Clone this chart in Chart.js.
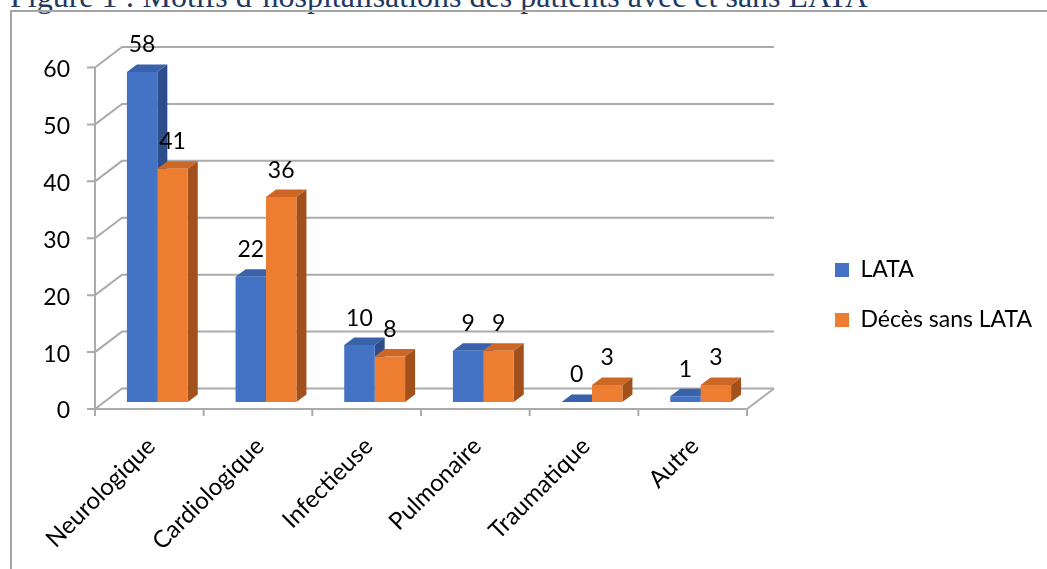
<!DOCTYPE html>
<html lang="fr">
<head>
  <meta charset="UTF-8">
  <title>Motifs d'hospitalisations des patients avec et sans LATA</title>
  <style>
    body { margin: 0; background: #fff; width: 1047px; height: 569px; overflow: hidden; position: relative; }
    .caption {
      position: absolute; left: 10px; top: -20px;
      font-family: "Liberation Serif", "Times New Roman", serif;
      font-size: 32px; line-height: 32px; color: #1F3864; white-space: nowrap;
    }
    .frame { position: absolute; left: 10px; top: 10px; width: 1100px; height: 600px; border-left: 2px solid #a6a6a6; border-top: 2px solid #a6a6a6; }
    #chart { position: absolute; left: 0; top: 0; }
  </style>
</head>
<body>
  <div class="caption">Figure 1 : Motifs d’hospitalisations des patients avec et sans LATA</div>
  <div class="frame"></div>
  <canvas id="chart" width="1047" height="569"></canvas>

  <script src="https://cdn.jsdelivr.net/npm/chart.js@4.4.1/dist/chart.umd.min.js"></script>
  <script>
    const categories = ['Neurologique', 'Cardiologique', 'Infectieuse', 'Pulmonaire', 'Traumatique', 'Autre'];
    const seriesNames = ['LATA', 'Décès sans LATA'];
    const lataValues = [58, 22, 10, 9, 0, 1];
    const sansLataValues = [41, 36, 8, 9, 3, 3];
    const yTicks = [0, 10, 20, 30, 40, 50, 60];

    // couleurs des faces (avant / dessus / côté)
    const faces = [
      { front: '#4472C4', top: '#3A62AB', side: '#2C4D8A' },
      { front: '#ED7D31', top: '#CC6726', side: '#A2511C' }
    ];
    const fontFamily = 'Lato, "Noto Sans", sans-serif';
    const font = { family: fontFamily, size: 23 };
    const catFont = { family: fontFamily, size: 24 };

    // décalages pour l'effet 3D
    const DEPTH = { dx: 10, dy: -7.5 };
    const FRONT = { dx: -8, dy: 7 };
    const BACK = { dx: 19, dy: -13.5 };

    // largeur de la légende -> marge droite pour que la légende commence à x=808
    const legendPad = 27, boxW = 14;
    const mctx = document.createElement('canvas').getContext('2d');
    mctx.font = `${font.size}px ${fontFamily}`;
    const textW = Math.max(...seriesNames.map(s => mctx.measureText(s).width));
    const legendW = legendPad + boxW + font.size / 2 + textW + 10;
    const padRight = Math.max(0, 1047 - 808 - legendW);

    function poly(ctx, pts, color) {
      ctx.fillStyle = color;
      ctx.beginPath();
      ctx.moveTo(pts[0][0], pts[0][1]);
      pts.slice(1).forEach(p => ctx.lineTo(p[0], p[1]));
      ctx.closePath();
      ctx.fill();
    }

    const wallPlugin = {
      id: 'wall3d',
      beforeDatasetsDraw(chart) {
        const { ctx, chartArea: a, scales: { x, y } } = chart;
        const p0 = y.getPixelForValue(0);
        const pTop = y.getPixelForValue(yTicks[yTicks.length - 1]);
        ctx.save();
        ctx.strokeStyle = '#ababab';
        ctx.lineWidth = 2;

        // paroi du fond + côté gauche
        yTicks.forEach(v => {
          const py = y.getPixelForValue(v);
          ctx.beginPath();
          ctx.moveTo(a.left + FRONT.dx, py + FRONT.dy);
          ctx.lineTo(a.left + BACK.dx, py + BACK.dy);
          ctx.lineTo(a.right + BACK.dx, py + BACK.dy);
          ctx.stroke();
        });
        // sol, bord droit
        ctx.beginPath();
        ctx.moveTo(a.right + FRONT.dx, p0 + FRONT.dy);
        ctx.lineTo(a.right + BACK.dx, p0 + BACK.dy);
        ctx.stroke();
        // axes avant
        ctx.beginPath();
        ctx.moveTo(a.left + FRONT.dx, pTop + FRONT.dy);
        ctx.lineTo(a.left + FRONT.dx, p0 + FRONT.dy);
        ctx.lineTo(a.right + FRONT.dx, p0 + FRONT.dy);
        ctx.stroke();
        // graduations
        ctx.beginPath();
        yTicks.forEach(v => {
          const py = y.getPixelForValue(v) + FRONT.dy;
          ctx.moveTo(a.left + FRONT.dx - 8, py);
          ctx.lineTo(a.left + FRONT.dx, py);
        });
        for (let i = 0; i <= categories.length; i++) {
          const px = x.getPixelForValue(i - 0.5) + FRONT.dx;
          ctx.moveTo(px, p0 + FRONT.dy);
          ctx.lineTo(px, p0 + FRONT.dy + 7);
        }
        ctx.stroke();

        // dessus et côté des barres
        chart.data.datasets.forEach((ds, di) => {
          chart.getDatasetMeta(di).data.forEach(bar => {
            const l = bar.x - bar.width / 2, r = bar.x + bar.width / 2;
            poly(ctx, [[l, bar.y], [l + DEPTH.dx, bar.y + DEPTH.dy], [r + DEPTH.dx, bar.y + DEPTH.dy], [r, bar.y]], faces[di].top);
            poly(ctx, [[r, bar.y], [r + DEPTH.dx, bar.y + DEPTH.dy], [r + DEPTH.dx, bar.base + DEPTH.dy], [r, bar.base]], faces[di].side);
          });
        });
        ctx.restore();
      }
    };

    const labelPlugin = {
      id: 'valueLabels',
      afterDatasetsDraw(chart) {
        const { ctx } = chart;
        ctx.save();
        ctx.font = `${font.size}px ${fontFamily}`;
        ctx.fillStyle = '#000';
        ctx.textAlign = 'center';
        ctx.textBaseline = 'middle';
        chart.data.datasets.forEach((ds, di) => {
          chart.getDatasetMeta(di).data.forEach((bar, i) => {
            ctx.fillText(String(ds.data[i]), bar.x, bar.y - 27);
          });
        });
        ctx.restore();
      }
    };

    new Chart(document.getElementById('chart'), {
      type: 'bar',
      data: {
        labels: categories,
        datasets: [
          { label: seriesNames[0], data: lataValues, backgroundColor: faces[0].front, borderWidth: 0 },
          { label: seriesNames[1], data: sansLataValues, backgroundColor: faces[1].front, borderWidth: 0 }
        ]
      },
      options: {
        responsive: false,
        animation: false,
        layout: { padding: { left: 10, right: padRight, top: 21, bottom: 0 } },
        datasets: { bar: { categoryPercentage: 0.56, barPercentage: 1 } },
        scales: {
          x: {
            grid: { display: false, drawTicks: false },
            border: { display: false },
            ticks: { font: catFont, color: '#000', minRotation: 45, maxRotation: 45, autoSkip: false, padding: 30, labelOffset: -6 },
            afterFit: s => { s.height = 167; }
          },
          x2: {
            position: 'top',
            display: false,
            afterFit: s => { s.height = 39.5; }
          },
          y: {
            min: 0, max: 60,
            grid: { display: false, drawTicks: false },
            border: { display: false },
            afterBuildTicks: s => { s.ticks = yTicks.map(v => ({ value: v })); },
            ticks: { font: font, color: '#000', padding: 33, labelOffset: 9 },
            afterFit: s => { s.width = 93; }
          },
          y2: {
            position: 'right',
            display: false,
            afterFit: s => { s.width = 53; }
          }
        },
        plugins: {
          legend: {
            position: 'right',
            labels: { boxWidth: boxW, boxHeight: 14, padding: legendPad, font: font, color: '#000' }
          },
          tooltip: { enabled: false }
        }
      },
      plugins: [wallPlugin, labelPlugin]
    });
  </script>
</body>
</html>
